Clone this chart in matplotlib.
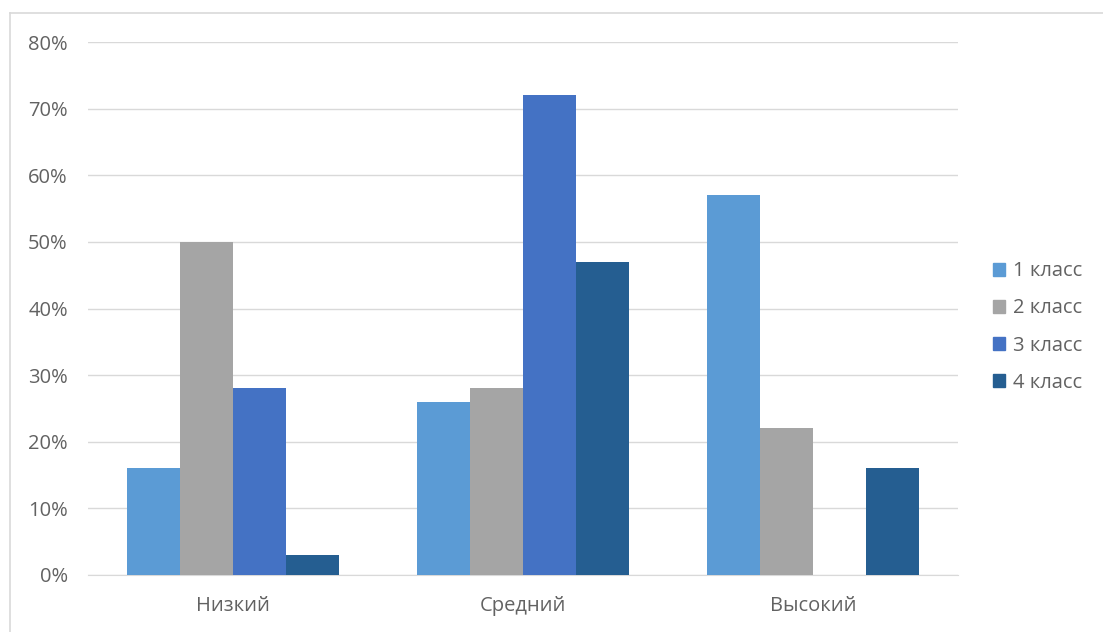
import matplotlib
matplotlib.use("Agg")
import matplotlib.pyplot as plt
import numpy as np
from matplotlib.lines import Line2D
from matplotlib.patches import Patch

categories = ["Низкий", "Средний", "Высокий"]
series_names = ["1 класс", "2 класс", "3 класс", "4 класс"]
class1 = [16, 26, 57]
class2 = [50, 28, 22]
class3 = [28, 72, 0]
class4 = [3, 47, 16]
yticks = [0, 10, 20, 30, 40, 50, 60, 70, 80]
colors = ["#5B9BD5", "#A5A5A5", "#4472C4", "#255E91"]

plt.rcParams['font.family'] = ['Open Sans', 'DejaVu Sans']
W, H = 1103, 632
fig = plt.figure(figsize=(W / 100, H / 100), dpi=100)
ax = fig.add_axes([88 / W, (H - 575) / H, (958 - 88) / W, (575 - 42) / H])

data = [class1, class2, class3, class4]
x = np.arange(len(categories))
bw = 0.182
for i, (vals, c) in enumerate(zip(data, colors)):
    ax.bar(x + (i - 1.5) * bw, vals, width=bw, color=c, zorder=3, label=series_names[i])

FS = 14.5
ax.set_xlim(-0.5, 2.5)
ax.set_ylim(0, 80)
ax.set_yticks(yticks)
ax.set_yticklabels([f"{v}%" for v in yticks])
ax.set_xticks(x)
ax.set_xticklabels(categories)
ax.grid(axis='y', color='#D9D9D9', linewidth=1, zorder=0)
for s in ['top', 'right', 'left']:
    ax.spines[s].set_visible(False)
ax.spines['bottom'].set_color('#D9D9D9')
ax.tick_params(axis='both', length=0, colors='#626262', labelsize=FS)
ax.tick_params(axis='y', pad=14.5)
ax.tick_params(axis='x', pad=15)

handles = [Patch(color=c) for c in colors]
fig.legend(handles, series_names, loc='center left', bbox_to_anchor=(975 / W, (H - 327) / H),
           frameon=False, fontsize=FS, labelcolor='#626262', handlelength=0.6, handleheight=0.6,
           labelspacing=0.85, handletextpad=0.4)

# chart area border
fig.add_artist(Line2D([10 / W, 1], [(H - 13) / H, (H - 13) / H], color='#D9D9D9', linewidth=1.2))
fig.add_artist(Line2D([10 / W, 10 / W], [0, (H - 13) / H], color='#D9D9D9', linewidth=1.2))

fig.savefig("out.png", dpi=100, facecolor='white')
